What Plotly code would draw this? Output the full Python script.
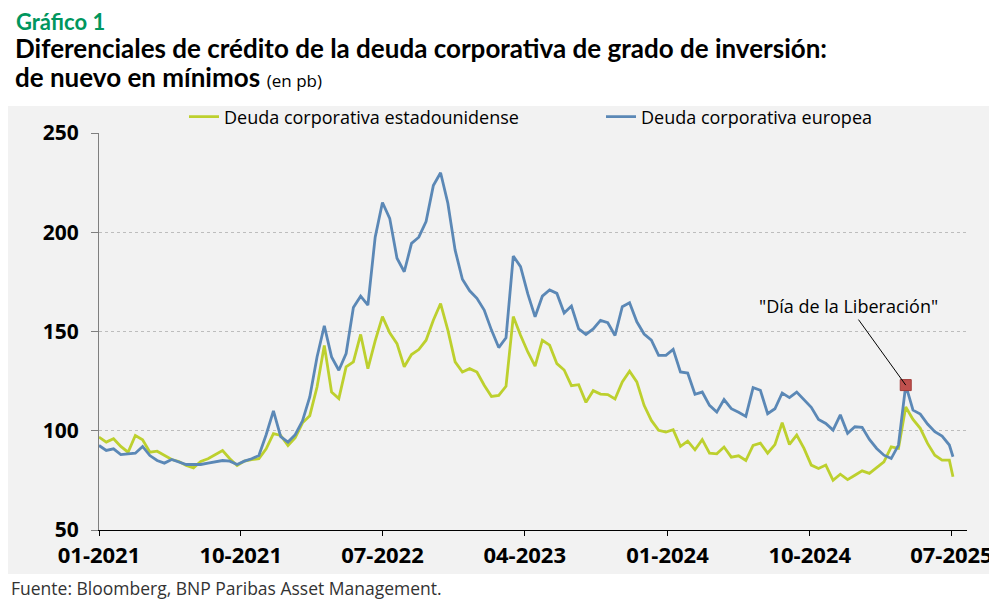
import plotly.graph_objects as go
import pandas as pd

# ---------------- data ----------------
us_spread = [
    96.8, 94.3, 96.0, 92.1, 89.2, 97.6, 95.5, 89.2, 89.7, 87.4,
    85.5, 84.5, 82.5, 81.3, 84.5, 85.9, 87.9, 90.0, 85.9, 82.5,
    84.7, 85.5, 85.9, 90.9, 98.5, 97.6, 92.6, 96.5, 104.0, 107.6,
    122.0, 143.0, 119.5, 116.2, 132.2, 134.7, 148.5, 131.3, 145.3, 157.5,
    149.3, 143.9, 132.2, 138.4, 140.9, 145.6, 155.7, 164.1, 150.7, 134.7,
    129.6, 131.3, 129.6, 122.9, 117.3, 117.8, 122.4, 157.5, 148.1, 139.7,
    132.5, 145.6, 143.1, 133.8, 130.6, 122.7, 123.2, 114.3, 120.2, 118.5,
    118.2, 116.0, 124.6, 130.0, 124.6, 112.8, 105.2, 100.2, 99.3, 100.5,
    92.1, 94.8, 90.4, 95.5, 88.7, 88.4, 91.8, 86.7, 87.4, 85.0,
    92.6, 93.8, 88.7, 93.0, 104.0, 93.1, 97.8, 91.1, 82.7, 81.0,
    82.7, 75.0, 78.1, 75.4, 77.6, 79.8, 78.5, 81.5, 84.3, 91.9,
    91.1, 112.0, 105.7, 101.2, 93.6, 87.7, 85.2, 85.2, 76.8,
]
eu_spread = [
    92.6, 90.1, 90.9, 88.0, 88.4, 88.7, 92.1, 87.5, 85.0, 83.7,
    85.5, 84.2, 83.0, 83.0, 83.0, 83.7, 84.2, 85.0, 84.7, 83.0,
    84.7, 85.9, 87.5, 98.0, 110.0, 97.0, 94.3, 98.0, 105.0, 117.0,
    137.2, 152.9, 137.2, 130.5, 138.9, 162.1, 167.8, 163.3, 197.5, 215.0,
    207.0, 186.9, 180.1, 194.4, 197.5, 205.4, 223.5, 230.0, 214.6, 191.0,
    176.3, 170.5, 166.7, 160.8, 150.7, 141.9, 146.8, 188.0, 182.7, 168.9,
    157.4, 167.8, 170.9, 169.2, 159.3, 162.8, 151.3, 148.5, 151.3, 155.6,
    154.4, 148.0, 162.5, 164.5, 154.9, 148.7, 145.6, 138.0, 138.0, 141.0,
    129.6, 129.1, 118.4, 119.5, 112.8, 109.4, 115.7, 111.1, 109.3, 107.2,
    121.7, 120.4, 108.6, 111.1, 119.0, 116.7, 119.5, 115.5, 111.8, 105.7,
    103.7, 100.3, 108.0, 98.7, 102.0, 101.7, 95.6, 91.1, 87.7, 86.0,
    92.8, 123.0, 110.4, 108.4, 103.4, 99.5, 97.3, 92.8, 86.9,
]
dates = list(pd.date_range("2021-01-01", periods=118, freq="14D")) + [pd.Timestamp("2025-07-04")]

series_names = ["Deuda corporativa estadounidense", "Deuda corporativa europea"]
series_colors = ["#BDD02E", "#5B88B6"]

x_tick_vals = ["2021-01-01", "2021-10-01", "2022-07-01", "2023-04-01",
               "2024-01-01", "2024-10-01", "2025-07-01"]
x_tick_text = ["01-2021", "10-2021", "07-2022", "04-2023", "01-2024", "10-2024", "07-2025"]
x_range = ["2021-01-01", "2025-07-31"]
y_ticks = [50, 100, 150, 200, 250]
y_range = [50, 250]

marker_date = "2025-04-04"
marker_value = 123.0
marker_label = '"Día de la Liberación"'

title_tag = "Gráfico 1"
title_line1 = "Diferenciales de crédito de la deuda corporativa de grado de inversión:"
title_line2 = "de nuevo en mínimos"
title_unit = "(en pb)"
source_text = "Fuente: Bloomberg, BNP Paribas Asset Management."

# ---------------- layout helpers ----------------
# The page body has an 8px margin, so the figure is drawn 8px smaller and
# all reference-window positions are converted with that offset.
OFF = 8
W, H = 997 - OFF, 605 - OFF
ML, MR, MT, MB = 99 - OFF, 30, 133 - OFF, 75
PW, PH = W - ML - MR, H - MT - MB


def px(x):
    return (x - OFF - ML) / PW


def py(y):
    return (H - MB - (y - OFF)) / PH


BODY = "Open Sans"
TITLE = "Lato"

legend_ids = ["legend", "legend2"]
legend_left = [184, 601]

fig = go.Figure()
for name, vals, col, lg in zip(series_names, [us_spread, eu_spread], series_colors, legend_ids):
    fig.add_trace(go.Scatter(
        x=dates, y=vals, name=name, mode="lines", legend=lg,
        line=dict(color=col, width=2.8), hoverinfo="x+y",
    ))

fig.add_trace(go.Scatter(
    x=[marker_date], y=[marker_value], mode="markers", showlegend=False,
    marker=dict(symbol="square", size=11, color="#C0504D",
                line=dict(color="#A23C39", width=1)),
))


def legend_box(left_px):
    return dict(
        orientation="h", x=px(left_px), xanchor="left", y=py(117), yanchor="middle",
        font=dict(family=BODY, size=18, color="#000000"),
        bgcolor="rgba(0,0,0,0)", borderwidth=0, itemwidth=30,
    )


fig.update_layout(
    width=W, height=H,
    margin=dict(l=ML, r=MR, t=MT, b=MB, autoexpand=False),
    paper_bgcolor="white",
    plot_bgcolor="#F2F2F2",
    font=dict(family=BODY, color="#000000"),
    showlegend=True,
    legend=legend_box(legend_left[0]),
    legend2=legend_box(legend_left[1]),
    xaxis=dict(
        type="date", range=x_range, tickvals=x_tick_vals, ticktext=x_tick_text,
        showgrid=False, zeroline=False, automargin=False,
        showline=True, linecolor="#000000", linewidth=1.2,
        ticks="outside", ticklen=5, tickcolor="#000000", tickwidth=1,
        tickfont=dict(family=BODY, size=22, color="#000000", weight="bold"),
    ),
    yaxis=dict(
        range=y_range, tickvals=y_ticks, automargin=False,
        showgrid=True, gridcolor="#BDBDBD", griddash="dot", gridwidth=1,
        zeroline=False,
        showline=True, linecolor="#7F7F7F", linewidth=1,
        ticks="outside", ticklen=7, tickcolor="#7F7F7F", tickwidth=1,
        ticklabelstandoff=8,
        tickfont=dict(family=BODY, size=21, color="#000000", weight="bold"),
    ),
    shapes=[dict(
        type="rect", xref="paper", yref="paper",
        x0=px(OFF), x1=px(997), y0=py(574), y1=py(106),
        fillcolor="#F2F2F2", line=dict(width=0), layer="below",
    )],
)

annotations = [
    dict(text="<b>" + title_tag + "</b>", x=px(14), y=py(21), xanchor="left", yanchor="middle",
         font=dict(family=TITLE, size=22, color="#00965E")),
    dict(text="<b>" + title_line1 + "</b>", x=px(13), y=py(48), xanchor="left", yanchor="middle",
         font=dict(family=TITLE, size=26, color="#000000")),
    dict(text="<b>" + title_line2 + "</b> <span style='font-size:17px;font-family:" + BODY + "'>"
         + title_unit + "</span>",
         x=px(13), y=py(77), xanchor="left", yanchor="middle",
         font=dict(family=TITLE, size=26, color="#000000")),
    dict(text=source_text, x=px(9), y=py(588), xanchor="left", yanchor="middle",
         font=dict(family=BODY, size=17.5, color="#333333")),
    dict(text=marker_label, x=marker_date, y=marker_value, xref="x", yref="y",
         showarrow=True, arrowhead=0, arrowwidth=1, arrowcolor="#000000",
         ax=-57, ay=-79, standoff=0,
         font=dict(family=BODY, size=18, color="#000000")),
]
for a in annotations:
    a.setdefault("xref", "paper")
    a.setdefault("yref", "paper")
    a.setdefault("showarrow", False)
fig.update_layout(annotations=annotations)

fig.write_html("out.html")
